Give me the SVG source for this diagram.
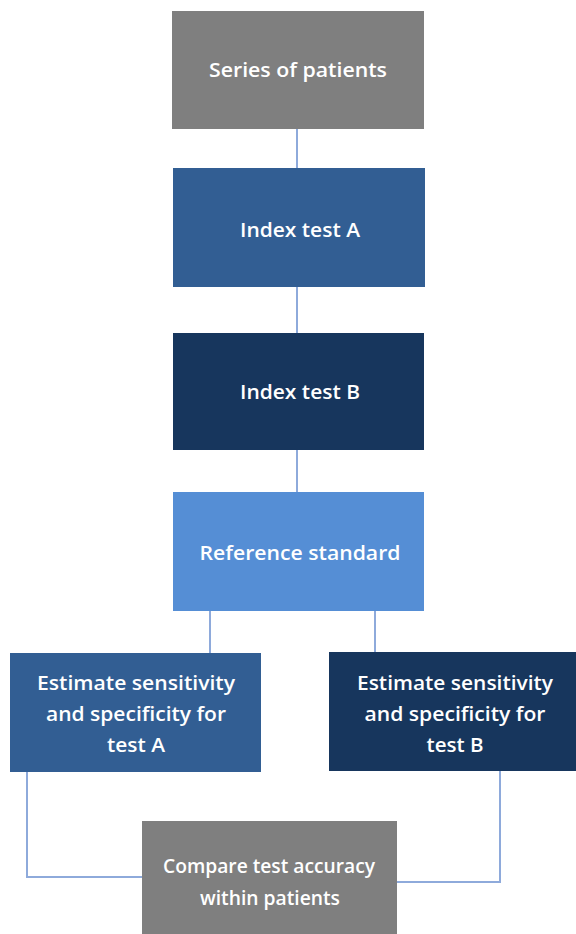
<svg xmlns="http://www.w3.org/2000/svg" width="576" height="934" viewBox="0 0 576 934">
  <style>
    .box { stroke: none; }
    .grey { fill: #7f7f7f; }
    .mid { fill: #325e93; }
    .navy { fill: #17365d; }
    .light { fill: #558ed5; }
    .label { font-family: "Open Sans", "Liberation Sans", sans-serif; font-size: 20px; font-weight: 600; fill: #ffffff; text-anchor: middle; }
    .link { fill: none; stroke: #8eaadb; stroke-width: 2; }
  </style>
  <rect width="576" height="934" fill="#ffffff"/>

  <g id="connectors">
    <line class="link" x1="297" y1="129" x2="297" y2="168"/>
    <line class="link" x1="297" y1="287" x2="297" y2="333"/>
    <line class="link" x1="297" y1="450" x2="297" y2="492"/>
    <line class="link" x1="210" y1="611" x2="210" y2="653"/>
    <line class="link" x1="375" y1="611" x2="375" y2="652"/>
    <polyline class="link" points="27,772 27,877 142,877"/>
    <polyline class="link" points="500,771 500,882 397,882"/>
  </g>

  <g id="series">
    <rect class="box grey" x="172" y="11" width="252" height="118"/>
    <text class="label" x="298" y="77" textLength="178" lengthAdjust="spacingAndGlyphs">Series of patients</text>
  </g>
  <g id="index-a">
    <rect class="box mid" x="173" y="168" width="252" height="119"/>
    <text class="label" x="300" y="237" textLength="120" lengthAdjust="spacingAndGlyphs">Index test A</text>
  </g>
  <g id="index-b">
    <rect class="box navy" x="173" y="333" width="251" height="117"/>
    <text class="label" x="300" y="399" textLength="120" lengthAdjust="spacingAndGlyphs">Index test B</text>
  </g>
  <g id="reference">
    <rect class="box light" x="173" y="492" width="251" height="119"/>
    <text class="label" x="300" y="560" textLength="201" lengthAdjust="spacingAndGlyphs">Reference standard</text>
  </g>
  <g id="estimate-a">
    <rect class="box mid" x="10" y="653" width="251" height="119"/>
    <text class="label" x="136" y="690" textLength="198" lengthAdjust="spacingAndGlyphs">Estimate sensitivity</text>
    <text class="label" x="136" y="721" textLength="180" lengthAdjust="spacingAndGlyphs">and specificity for</text>
    <text class="label" x="136" y="752" textLength="58" lengthAdjust="spacingAndGlyphs">test A</text>
  </g>
  <g id="estimate-b">
    <rect class="box navy" x="329" y="652" width="247" height="119"/>
    <text class="label" x="455" y="690" textLength="196" lengthAdjust="spacingAndGlyphs">Estimate sensitivity</text>
    <text class="label" x="455" y="721" textLength="181" lengthAdjust="spacingAndGlyphs">and specificity for</text>
    <text class="label" x="455" y="752" textLength="57" lengthAdjust="spacingAndGlyphs">test B</text>
  </g>
  <g id="compare">
    <rect class="box grey" x="142" y="821" width="255" height="113"/>
    <text class="label" x="269" y="873" textLength="212" lengthAdjust="spacingAndGlyphs">Compare test accuracy</text>
    <text class="label" x="270" y="905" textLength="140" lengthAdjust="spacingAndGlyphs">within patients</text>
  </g>
</svg>
